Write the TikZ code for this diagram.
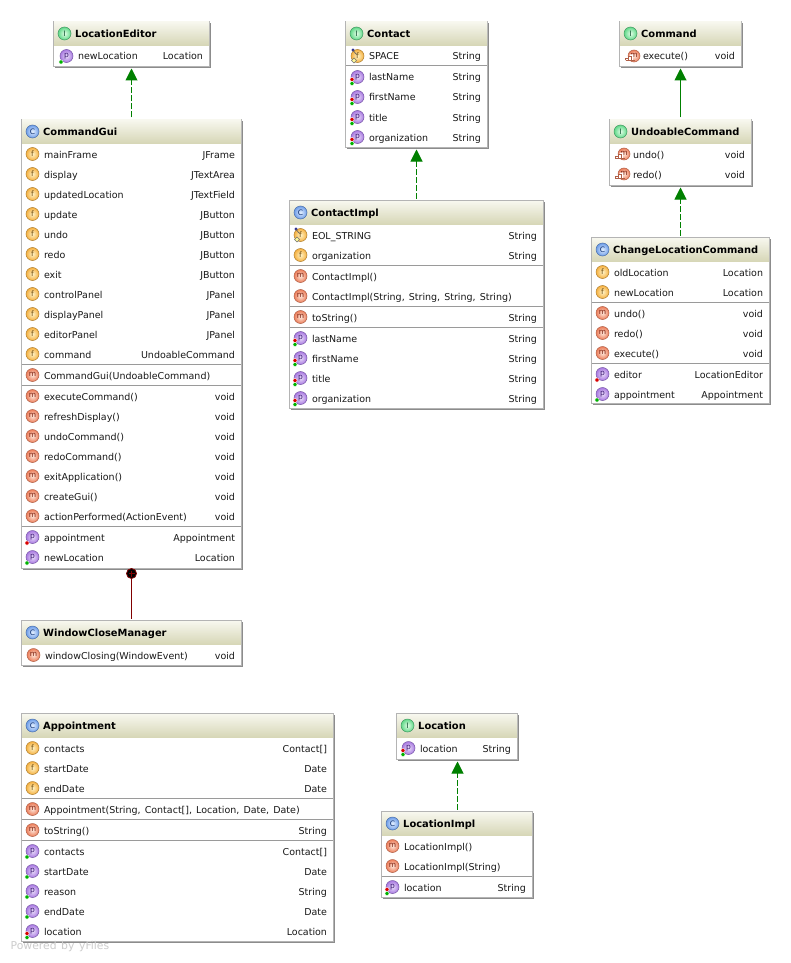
\documentclass[tikz,border=0pt]{standalone}
\usepackage{fontspec}
\setmainfont[WordSpace=1.35]{DejaVu Sans}
\usetikzlibrary{arrows.meta,calc}
\definecolor{hdtop}{HTML}{F7F7EE}
\definecolor{hdbot}{HTML}{D6D6B6}
\definecolor{edgeg}{HTML}{B4B4B4}
\definecolor{shad}{HTML}{8C8C8C}
\definecolor{sepg}{HTML}{9A9A9A}
\definecolor{arrowg}{HTML}{008000}
\definecolor{innerr}{HTML}{800000}
\definecolor{fin}{HTML}{FFF4C8}\definecolor{fout}{HTML}{F5B040}\definecolor{frim}{HTML}{B08030}\definecolor{ftx}{HTML}{6A4A10}
\definecolor{min}{HTML}{FDE8DC}\definecolor{mout}{HTML}{EC7C58}\definecolor{mrim}{HTML}{B06048}\definecolor{mtx}{HTML}{7A2010}
\definecolor{pin}{HTML}{EADFFA}\definecolor{pout}{HTML}{A878E0}\definecolor{prim}{HTML}{7858A8}\definecolor{ptx}{HTML}{3A1A70}
\definecolor{cin}{HTML}{E4F0FF}\definecolor{cout}{HTML}{6C9CE8}\definecolor{crim}{HTML}{4C70A8}\definecolor{ctx}{HTML}{103070}
\definecolor{iin}{HTML}{E4FFE8}\definecolor{iout}{HTML}{60D888}\definecolor{irim}{HTML}{409860}\definecolor{itx}{HTML}{105030}
\tikzset{
  x=1pt,y=-1pt,
  umlbox/.style={draw=edgeg,fill=white,line width=1pt,inner sep=0pt,outer sep=0pt,anchor=north west},
  rowtext/.style={inner sep=0pt,outer sep=0pt,font=\fontsize{9.5}{12}\selectfont,text=black!90,text height=9pt,text depth=1pt},
  headtext/.style={inner sep=0pt,outer sep=0pt,font=\fontsize{9.9}{12}\selectfont\bfseries,text=black,text height=9pt,text depth=1pt,anchor=west},
  icontext/.style={inner sep=0pt,outer sep=0pt,font=\fontsize{7.5}{8}\selectfont},
  ball-f/.style={line width=.5pt,draw=frim,inner color=fin,outer color=fout},
  ball-m/.style={line width=.5pt,draw=mrim,inner color=min,outer color=mout},
  ball-p/.style={line width=.5pt,draw=prim,inner color=pin,outer color=pout},
  ball-c/.style={line width=.5pt,draw=crim,inner color=cin,outer color=cout},
  ball-i/.style={line width=.5pt,draw=irim,inner color=iin,outer color=iout},
  implements/.style={draw=arrowg,line width=1pt,dash pattern=on 6pt off 2pt,shorten <=2pt,shorten >=2pt,
     -{Triangle[length=12pt,width=12pt,fill=arrowg]}},
  extends/.style={draw=arrowg,line width=1pt,shorten <=2pt,shorten >=2pt,
     -{Triangle[length=12pt,width=12pt,fill=arrowg]}},
  innerline/.style={draw=innerr,line width=1pt,shorten <=2pt,shorten >=2pt},
}
\newcount\rowno
% \umlclass{name}{x1}{y1}{x2}{y2}{c|i}{title}{text offset}
\newcommand{\umlclass}[8]{%
  \def\xa{#2}\def\ya{#3}\def\xb{#4}\def\yb{#5}\def\tofs{#8}%
  \fill[shad] (#2+1.5,#3+1.5) rectangle (#4+1.5,#5+1.5);
  \pgfmathsetmacro\bw{#4-#2}\pgfmathsetmacro\bh{#5-#3}%
  \node[umlbox,minimum width=\bw pt,minimum height=\bh pt] (#1) at (#2,#3) {};
  \shade[top color=hdtop,bottom color=hdbot] (#2+.5,#3+.5) rectangle (#4-.5,#3+24);
  \path[ball-#6,shade,draw] (#2+11,#3+12) circle (6.5);
  \node[icontext,text=#6tx] (#1icon) at (#2+11,#3+12) {\ifx i#6 I\else C\fi};
  \node[headtext] (#1title) at (#2+21.7,#3+12) {#7};
}
\newcommand{\smalldot}[3]{\fill[#3,draw=white,line width=.4pt] (#1,#2) circle (2.1);}
% \umlrow{y}{kind}{name}{type}; kind: f sf m am pg pr prg
\newcommand{\umlrow}[4]{%
  \global\advance\rowno by 1
  \pgfmathsetmacro\tx{\xa+\tofs+.5}\pgfmathsetmacro\ix{\tx-11.5}\pgfmathsetmacro\rx{\xb-6.5}%
  \def\knd{#2}\def\kf{f}\def\ksf{sf}\def\km{m}\def\kam{am}\def\kpg{pg}\def\kpr{pr}\def\kprg{prg}%
  \def\ltr{p}\def\bst{ball-p}\def\ltc{ptx}\def\brad{6.5}%
  \ifx\knd\kf\def\ltr{f}\def\bst{ball-f}\def\ltc{ftx}\fi
  \ifx\knd\ksf\def\ltr{f}\def\bst{ball-f}\def\ltc{ftx}\fi
  \ifx\knd\km\def\ltr{m}\def\bst{ball-m}\def\ltc{mtx}\fi
  \ifx\knd\kam\def\ltr{m}\def\bst{ball-m}\def\ltc{mtx}\def\brad{6}\pgfmathsetmacro\ix{\tx-9}\fi
  \path[\bst,shade,draw] (\ix,#1+.5) circle (\brad);
  \node[icontext,text=\ltc] (ic\the\rowno) at (\ix,#1+.3) {\ltr};
  \ifx\knd\ksf
    \draw[black!55,fill=yellow!40,line width=.5pt] (\ix-6,#1+5) -- (\ix-3.5,#1+2.5) -- (\ix-1,#1+5) -- (\ix-3.5,#1+7.5) -- cycle;
    \fill[blue!45!black!80] (\ix-4.5,#1-5.5) circle (1.6);
    \draw[black!60,line width=.7pt] (\ix-4.5,#1-5) -- (\ix-1,#1-1);
  \fi
  \ifx\knd\kam
    \fill[white] (\ix-8.5,#1+1) -- (\ix-4.5,#1+1) -- (\ix-4.5,#1-1) -- (\ix-1,#1-1) -- (\ix-1,#1+5) -- (\ix-8.5,#1+5) -- cycle;
    \draw[mrim,line width=.7pt] (\ix-8.5,#1+5) -- (\ix+1,#1+5)
      (\ix-8.5,#1+5) -- (\ix-8.5,#1+2.5) -- (\ix-5.5,#1+2.5) -- (\ix-5.5,#1+.5) -- (\ix-3,#1+.5) -- (\ix-3,#1+5);
    \draw[mrim,line width=.7pt] (\ix-5.5,#1+2.5) -- (\ix-5.5,#1+5);
  \fi
  \ifx\knd\kpg\smalldot{\ix-5.5}{#1+6.5}{green!70!black}\fi
  \ifx\knd\kpr\smalldot{\ix-5.5}{#1+6.5}{red!85!black}\fi
  \ifx\knd\kprg\smalldot{\ix-5.5}{#1+3}{red!85!black}\smalldot{\ix-5.5}{#1+7}{green!70!black}\fi
  \node[rowtext,anchor=west] (nm\the\rowno) at (\tx,#1+.5) {#3};
  \node[rowtext,anchor=east] (ty\the\rowno) at (\rx,#1+.5) {#4};
}
\newcommand{\umlsep}[1]{\draw[sepg,line width=1pt] (\xa+.5,#1) -- (\xb-.5,#1);}
\begin{document}
\begin{tikzpicture}
\useasboundingbox (.5,.5) rectangle (791.5,963.5);
\fill[white] (.5,.5) rectangle (791.5,963.5);

\umlclass{locedit}{54}{22}{210}{67}{i}{LocationEditor}{24}
\umlrow{56}{pg}{newLocation}{Location}

\umlclass{gui}{22}{120}{242}{568.5}{c}{CommandGui}{22}
\umlrow{154}{f}{mainFrame}{JFrame}
\umlrow{174}{f}{display}{JTextArea}
\umlrow{194}{f}{updatedLocation}{JTextField}
\umlrow{214}{f}{update}{JButton}
\umlrow{234}{f}{undo}{JButton}
\umlrow{254}{f}{redo}{JButton}
\umlrow{274}{f}{exit}{JButton}
\umlrow{294}{f}{controlPanel}{JPanel}
\umlrow{314}{f}{displayPanel}{JPanel}
\umlrow{334}{f}{editorPanel}{JPanel}
\umlrow{354}{f}{command}{UndoableCommand}
\umlsep{364.5}
\umlrow{375}{m}{CommandGui(UndoableCommand)}{}
\umlsep{385.5}
\umlrow{396}{m}{executeCommand()}{void}
\umlrow{416}{m}{refreshDisplay()}{void}
\umlrow{436}{m}{undoCommand()}{void}
\umlrow{456}{m}{redoCommand()}{void}
\umlrow{476}{m}{exitApplication()}{void}
\umlrow{496}{m}{createGui()}{void}
\umlrow{516}{m}{actionPerformed(ActionEvent)}{void}
\umlsep{526.5}
\umlrow{537}{pr}{appointment}{Appointment}
\umlrow{557}{pg}{newLocation}{Location}

\umlclass{wcm}{22}{621}{242}{666}{c}{WindowCloseManager}{23}
\umlrow{655}{m}{windowClosing(WindowEvent)}{void}

\umlclass{contact}{346}{22}{488}{148}{i}{Contact}{23}
\umlrow{56}{sf}{SPACE}{String}
\umlsep{66.5}
\umlrow{77}{prg}{lastName}{String}
\umlrow{97}{prg}{firstName}{String}
\umlrow{117}{prg}{title}{String}
\umlrow{137}{prg}{organization}{String}

\umlclass{cimpl}{290}{201}{544}{409}{c}{ContactImpl}{22}
\umlrow{235}{sf}{EOL\_STRING}{String}
\umlrow{255}{f}{organization}{String}
\umlsep{265.5}
\umlrow{276}{m}{ContactImpl()}{}
\umlrow{296}{m}{ContactImpl(String, String, String, String)}{}
\umlsep{306.5}
\umlrow{317}{m}{toString()}{String}
\umlsep{327.5}
\umlrow{338}{prg}{lastName}{String}
\umlrow{358}{prg}{firstName}{String}
\umlrow{378}{prg}{title}{String}
\umlrow{398}{prg}{organization}{String}

\umlclass{cmd}{620}{22}{742}{67}{i}{Command}{23}
\umlrow{56}{am}{execute()}{void}

\umlclass{undo}{610}{120}{752}{186}{i}{UndoableCommand}{23}
\umlrow{154}{am}{undo()}{void}
\umlrow{174}{am}{redo()}{void}

\umlclass{chg}{592}{238}{770}{404}{c}{ChangeLocationCommand}{22}
\umlrow{272}{f}{oldLocation}{Location}
\umlrow{292}{f}{newLocation}{Location}
\umlsep{302.5}
\umlrow{313}{m}{undo()}{void}
\umlrow{333}{m}{redo()}{void}
\umlrow{353}{m}{execute()}{void}
\umlsep{363.5}
\umlrow{374}{pr}{editor}{LocationEditor}
\umlrow{394}{pg}{appointment}{Appointment}

\umlclass{appt}{22}{714}{334}{942}{c}{Appointment}{22}
\umlrow{748}{f}{contacts}{Contact[]}
\umlrow{768}{f}{startDate}{Date}
\umlrow{788}{f}{endDate}{Date}
\umlsep{798.5}
\umlrow{809}{m}{Appointment(String, Contact[], Location, Date, Date)}{}
\umlsep{819.5}
\umlrow{830}{m}{toString()}{String}
\umlsep{840.5}
\umlrow{851}{pg}{contacts}{Contact[]}
\umlrow{871}{pg}{startDate}{Date}
\umlrow{891}{pg}{reason}{String}
\umlrow{911}{pg}{endDate}{Date}
\umlrow{931}{prg}{location}{Location}

\umlclass{loc}{397}{714}{518}{760}{i}{Location}{23}
\umlrow{748}{prg}{location}{String}

\umlclass{limpl}{382}{812}{533}{898}{c}{LocationImpl}{22}
\umlrow{846}{m}{LocationImpl()}{}
\umlrow{866}{m}{LocationImpl(String)}{}
\umlsep{876.5}
\umlrow{887}{prg}{location}{String}

% connectors
\draw[implements] (gui.north) -- (locedit.south);
\draw[implements] (cimpl.north) -- (contact.south);
\draw[extends] (undo.north) -- (cmd.south);
\draw[implements] (chg.north) -- (undo.south);
\draw[implements] ($(limpl.north)+(.5,0)$) -- ($(loc.south)+(.5,0)$);
\coordinate (innerhub) at ($(gui.south)+(0,5.5)$);
\draw[innerline,shorten <=0pt] (innerhub) -- (wcm.north);
\fill[black,draw=innerr,line width=.8pt] (innerhub) circle (5);
\draw[innerr,line width=.8pt] ($(innerhub)+(-3,0)$) -- ($(innerhub)+(3,0)$) ($(innerhub)+(0,-3)$) -- ($(innerhub)+(0,3)$);

\node[inner sep=0pt,anchor=west,font=\fontsize{10.8}{12}\selectfont,text=black!20] (powered) at (11,947) {Powered by yFiles};
\end{tikzpicture}
\end{document}
